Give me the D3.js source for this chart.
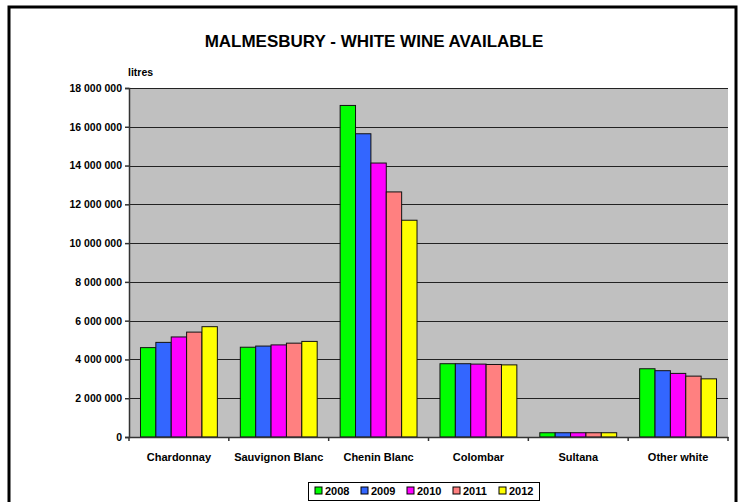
<!DOCTYPE html>
<html>
<head>
<meta charset="utf-8">
<script src="https://cdn.jsdelivr.net/npm/d3@7"></script>
<style>
  body { margin: 0; background: #fff; }
  svg { display: block; font-family: Arial, "Liberation Sans", sans-serif; font-weight: bold; }
</style>
</head>
<body>
<div id="chart"></div>
<script>
const categories = ["Chardonnay", "Sauvignon Blanc", "Chenin Blanc", "Colombar", "Sultana", "Other white"];
const years = ["2008", "2009", "2010", "2011", "2012"];
const v2008 = [4610000, 4630000, 17100000, 3780000, 220000, 3520000];
const v2009 = [4880000, 4690000, 15640000, 3780000, 220000, 3420000];
const v2010 = [5160000, 4750000, 14130000, 3760000, 220000, 3280000];
const v2011 = [5410000, 4840000, 12640000, 3740000, 220000, 3140000];
const v2012 = [5690000, 4930000, 11180000, 3720000, 220000, 3000000];
const yTicks = [0, 2000000, 4000000, 6000000, 8000000, 10000000, 12000000, 14000000, 16000000, 18000000];
const colors = ["#00ff00", "#3366ff", "#ff00ff", "#ff8080", "#ffff00"];

const series = [v2008, v2009, v2010, v2011, v2012];

const W = 745, H = 502;
const plot = { left: 129, top: 88, right: 728, bottom: 437 };

const svg = d3.select("#chart").append("svg")
    .attr("width", W).attr("height", H);

// outer frame
svg.append("rect")
    .attr("x", 9).attr("y", 7).attr("width", 727).attr("height", 510)
    .attr("fill", "#fff").attr("stroke", "#000").attr("stroke-width", 3);

svg.append("text")
    .attr("x", 374).attr("y", 47)
    .attr("text-anchor", "middle")
    .attr("font-size", 17)
    .text("MALMESBURY - WHITE WINE AVAILABLE");

svg.append("text")
    .attr("x", 128).attr("y", 76)
    .attr("font-size", 10.5)
    .text("litres");

const x0 = d3.scaleBand()
    .domain(categories)
    .range([plot.left, plot.right]);

const x1 = d3.scaleBand()
    .domain(years)
    .range([x0.bandwidth() * 0.115, x0.bandwidth() * 0.885]);

const y = d3.scaleLinear()
    .domain([0, 18000000])
    .range([plot.bottom, plot.top]);

// plot background
svg.append("rect")
    .attr("x", plot.left).attr("y", plot.top)
    .attr("width", plot.right - plot.left).attr("height", plot.bottom - plot.top)
    .attr("fill", "#c0c0c0");

// gridlines
svg.append("g")
    .selectAll("line")
    .data(yTicks.filter(d => d > 0))
    .enter().append("line")
    .attr("x1", plot.left).attr("x2", plot.right)
    .attr("y1", d => Math.round(y(d)) + 0.5).attr("y2", d => Math.round(y(d)) + 0.5)
    .attr("stroke", "#222").attr("stroke-width", 1);

const fmt = d => d3.format(",")(d).replace(/,/g, " ");

// bars
const groups = svg.append("g")
    .selectAll("g")
    .data(categories)
    .enter().append("g")
    .attr("transform", d => `translate(${x0(d)},0)`);

groups.selectAll("rect")
    .data((c, i) => years.map((yr, j) => ({ yr, value: series[j][i], j })))
    .enter().append("rect")
    .attr("x", d => x1(d.yr))
    .attr("y", d => y(d.value))
    .attr("width", x1.bandwidth())
    .attr("height", d => plot.bottom - y(d.value))
    .attr("fill", d => colors[d.j])
    .attr("stroke", "#111")
    .attr("stroke-width", 1);

// y axis
const yAxis = svg.append("g")
    .attr("transform", `translate(${plot.left},0)`)
    .call(d3.axisLeft(y).tickValues(yTicks).tickFormat(fmt).tickSize(4).tickPadding(3));
yAxis.selectAll("path, line").attr("stroke", "#333").attr("stroke-width", 1.5);
yAxis.selectAll("text").attr("font-size", 10.5).attr("fill", "#000").attr("font-weight", "bold");

// x axis
const xAxis = svg.append("g")
    .attr("transform", `translate(0,${plot.bottom})`)
    .call(d3.axisBottom(x0).tickSize(0).tickPadding(16));
xAxis.select(".domain").attr("stroke", "#333").attr("stroke-width", 1.5);
xAxis.selectAll("text").attr("font-size", 11).attr("fill", "#000").attr("font-weight", "bold");

// category boundary ticks
svg.append("g")
    .selectAll("line")
    .data(categories.map(c => x0(c)).concat([plot.right]))
    .enter().append("line")
    .attr("x1", d => d).attr("x2", d => d)
    .attr("y1", plot.bottom).attr("y2", plot.bottom + 4)
    .attr("stroke", "#333").attr("stroke-width", 1.5);

// legend
const legend = svg.append("g");
legend.append("rect")
    .attr("x", 308.5).attr("y", 482.5).attr("width", 231).attr("height", 18)
    .attr("fill", "#fff").attr("stroke", "#000").attr("stroke-width", 1);

const lx = d3.scalePoint().domain(years).range([315, 499]);
const items = legend.selectAll("g.item")
    .data(years)
    .enter().append("g")
    .attr("class", "item")
    .attr("transform", d => `translate(${lx(d)},487)`);
items.append("rect")
    .attr("width", 7).attr("height", 7)
    .attr("fill", (d, i) => colors[i])
    .attr("stroke", "#000").attr("stroke-width", 1);
items.append("text")
    .attr("x", 10).attr("y", 8)
    .attr("font-size", 11)
    .text(d => d);
</script>
</body>
</html>
